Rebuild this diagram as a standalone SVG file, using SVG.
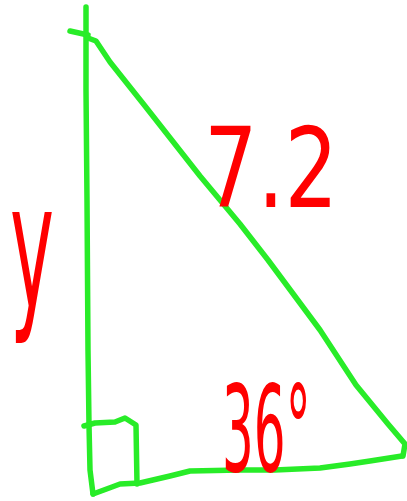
<svg xmlns="http://www.w3.org/2000/svg" width="407" height="501" viewBox="0 0 407 501">
<style>
.g{fill:none;stroke:#28ec28;stroke-width:5.5;stroke-linecap:round;stroke-linejoin:round}
.r{fill:#ff0000;font-family:"DejaVu Sans",sans-serif}
</style>
<rect width="407" height="501" fill="#ffffff"/>
<g id="triangle">
<path class="g" d="M86,7 L86,90 L87,200 L88,350 L89,425 L90,470 L93,494"/>
<path class="g" d="M70,31 L88,35"/>
<path class="g" d="M88,38 L96,41 L110,62 L145,106 L200,176 L240,224 L268,260 L320,330 L356,385 L388,424 L405,444 L403,456"/>
<path class="g" d="M93,494 L112,487 L120,484 L140,483 L170,476 L190,471 L240,470 L275,470 L320,468 L350,464 L370,461 L402,456"/>
<path class="g" d="M84,426 L95,423 L115,422 L125,418 L136,425 L137,484"/>
</g>
<g id="labels">
<text class="r" font-size="173" transform="translate(10,307) scale(0.43,1)">y</text>
<text class="r" font-size="110" transform="translate(204,207) scale(0.766,1)">7.2</text>
<text class="r" font-size="120" transform="translate(222,471) scale(0.417,1)">36°</text>
</g>
</svg>
